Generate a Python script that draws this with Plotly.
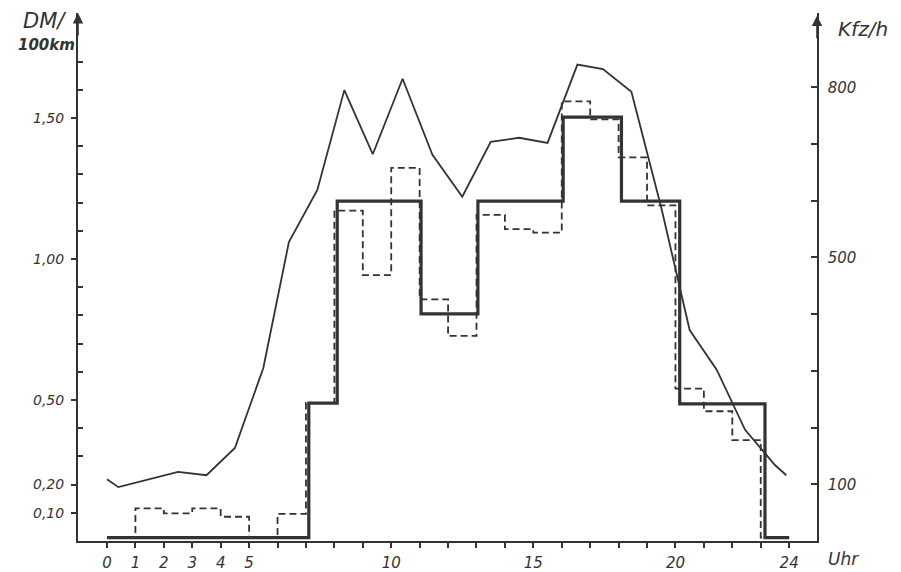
import plotly.graph_objects as go

# ---- data ----
# hourly traffic volume (Kfz/h), right axis
kfz_hours = [0, 0.4, 2.5, 3.5, 4.5, 5.5, 6.4, 7.4, 8.35, 9.35, 10.4, 11.45, 12.5,
             13.5, 14.5, 15.5, 16.55, 17.45, 18.45, 19.5, 20.5, 21.45, 22.45, 23.5, 23.9]
kfz_values = [109, 95, 122, 116, 164, 305, 527, 619, 795, 682, 815, 681, 607,
              704, 711, 702, 840, 832, 792, 588, 372, 302, 196, 134, 116]

# tariff step (DM/100km), thick line: step edges and levels
tariff_edges = [0, 7.1, 8.1, 11.05, 13.05, 16.05, 18.1, 20.15, 23.15, 24]
tariff_levels = [0.012, 0.489, 1.205, 0.805, 1.205, 1.503, 1.205, 0.486, 0.012, 0.012]

# hourly optimal charge (DM/100km), dashed line
hourly_edges = list(range(0, 25))
hourly_levels = [0.012, 0.116, 0.098, 0.116, 0.086, 0.012, 0.096, 0.49, 1.171, 0.943,
                 1.323, 0.857, 0.727, 1.156, 1.106, 1.093, 1.559, 1.495, 1.36, 1.19,
                 0.54, 0.46, 0.358, 0.012, 0.012]

x_tickvals = [0, 1, 2, 3, 4, 5, 10, 15, 20, 24]
x_ticktext = ["0", "1", "2", "3", "4", "5", "10", "15", "20", "24"]
x_minor_ticks = list(range(0, 25))
y_tickvals = [0.1, 0.2, 0.5, 1.0, 1.5]
y_ticktext = ["0,10", "0,20", "0,50", "1,00", "1,50"]
y_minor_ticks = [0.3, 0.4, 0.6, 0.7, 0.8, 0.9, 1.1, 1.2, 1.3, 1.4, 1.6, 1.7]
y2_tickvals = [100, 200, 300, 400, 500, 600, 700, 800]
y2_ticktext = ["100", "", "", "", "500", "", "", "800"]

INK = "#333333"
FONT = "DejaVu Sans"

fig = go.Figure()

fig.add_trace(go.Scatter(
    x=kfz_hours, y=kfz_values, mode="lines", yaxis="y2",
    line=dict(color=INK, width=1.8), showlegend=False))

fig.add_trace(go.Scatter(
    x=hourly_edges, y=hourly_levels, mode="lines", line_shape="hv",
    line=dict(color=INK, width=1.8, dash="7px,4px"), showlegend=False))

fig.add_trace(go.Scatter(
    x=tariff_edges, y=tariff_levels, mode="lines", line_shape="hv",
    line=dict(color=INK, width=3.2), showlegend=False))

# the page body adds an 8px margin, so the figure is 8px smaller on each axis
fig.update_layout(
    width=893, height=564,
    margin=dict(l=70, r=84, t=5, b=31, autoexpand=False),
    paper_bgcolor="white", plot_bgcolor="white",
    font=dict(family=FONT, color=INK, size=13),
    xaxis=dict(
        range=[-1.02, 24.98], showgrid=False, zeroline=False, automargin=False,
        showline=True, linecolor=INK, linewidth=2,
        tickvals=x_tickvals, ticktext=x_ticktext,
        ticks="outside", ticklen=5, tickwidth=1.5, tickcolor=INK,
        ticklabelstandoff=2,
        tickfont=dict(size=15, style="italic"),
        minor=dict(tickmode="array", tickvals=x_minor_ticks, ticks="outside",
                   ticklen=5, tickwidth=1.5, tickcolor=INK),
    ),
    yaxis=dict(
        range=[0, 1.872], showgrid=False, zeroline=False, automargin=False,
        showline=True, linecolor=INK, linewidth=2,
        tickvals=y_tickvals, ticktext=y_ticktext,
        ticks="outside", ticklen=5, tickwidth=2, tickcolor=INK,
        ticklabelstandoff=4,
        tickfont=dict(size=14, style="italic"),
        minor=dict(tickmode="array", tickvals=y_minor_ticks, ticks="inside",
                   ticklen=5, tickwidth=2, tickcolor=INK),
    ),
    yaxis2=dict(
        range=[0, 931], overlaying="y", side="right", automargin=False,
        showgrid=False, zeroline=False,
        showline=True, linecolor=INK, linewidth=1.5,
        tickvals=y2_tickvals, ticktext=y2_ticktext,
        ticks="inside", ticklen=6, tickwidth=1.5, tickcolor=INK,
        ticklabelstandoff=6,
        tickfont=dict(size=15, style="italic"),
    ),
)

annotations = [
    # axis arrowheads
    dict(x=0, y=1.0, xref="paper", yref="paper", text="", showarrow=True,
         ax=0, ay=24, arrowhead=2, arrowsize=1.3, arrowwidth=1.6, arrowcolor=INK),
    dict(x=1, y=0.995, xref="paper", yref="paper", text="", showarrow=True,
         ax=0, ay=24, arrowhead=2, arrowsize=1.3, arrowwidth=1.6, arrowcolor=INK),
    # axis titles
    dict(x=-0.0447, y=0.985, xref="paper", yref="paper", text="<i>DM/</i>",
         xanchor="center", yanchor="middle",
         showarrow=False, font=dict(size=21, color=INK)),
    dict(x=-0.042, y=0.939, xref="paper", yref="paper", text="<i><b>100km</b></i>",
         xanchor="center", yanchor="middle",
         showarrow=False, font=dict(size=15, color=INK)),
    dict(x=1.062, y=0.97, xref="paper", yref="paper", text="<i>Kfz/h</i>",
         xanchor="center", yanchor="middle",
         showarrow=False, font=dict(size=20, color=INK)),
    dict(x=1.0365, y=-0.035, xref="paper", yref="paper", text="<i>Uhr</i>",
         xanchor="center", yanchor="middle",
         showarrow=False, font=dict(size=17, color=INK)),
]
fig.update_layout(annotations=annotations)

fig.write_html("out.html")
